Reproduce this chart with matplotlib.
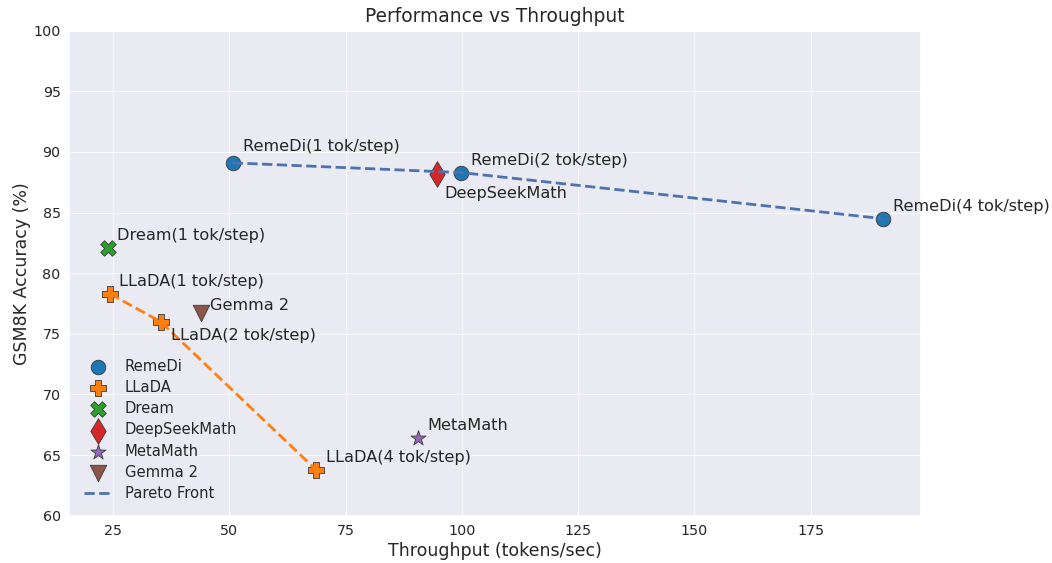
import matplotlib
matplotlib.use("Agg")
import matplotlib.pyplot as plt
import seaborn as sns

sns.set_theme(style="darkgrid")
plt.rcParams['font.family'] = ['DejaVu Sans']

# Data
models = ["RemeDi", "LLaDA", "Dream", "DeepSeekMath", "MetaMath", "Gemma 2"]
remedi_x = [50.7, 99.8, 190.5]
remedi_y = [89.1, 88.3, 84.5]
remedi_labels = ["RemeDi(1 tok/step)", "RemeDi(2 tok/step)", "RemeDi(4 tok/step)"]
llada_x = [24.3, 35.2, 68.6]
llada_y = [78.3, 76.0, 63.8]
llada_labels = ["LLaDA(1 tok/step)", "LLaDA(2 tok/step)", "LLaDA(4 tok/step)"]
dream_x = [23.9]
dream_y = [82.1]
dream_labels = ["Dream(1 tok/step)"]
deepseek_x = [94.6]
deepseek_y = [88.2]
deepseek_labels = ["DeepSeekMath"]
metamath_x = [90.5]
metamath_y = [66.4]
metamath_labels = ["MetaMath"]
gemma_x = [43.8]
gemma_y = [76.7]
gemma_labels = ["Gemma 2"]

# Styles
colors = ["#1f77b4", "#ff7f0e", "#2ca02c", "#d62728", "#9467bd", "#8c564b"]
markers = ["o", "P", "X", "d", "*", "v"]
sizes = [110, 140, 125, 170, 130, 140]
offsets = [
    [(10, 12), (10, 8), (10, 8)],
    [(9, 8), (10, -18), (10, 8)],
    [(9, 8)],
    [(8, -24)],
    [(10, 8)],
    [(9, 3)],
]

fig = plt.figure(figsize=(10.52, 5.63), dpi=100)
ax = fig.add_axes([0.0656, 0.084, 0.8096, 0.8615])

series = [
    (remedi_x, remedi_y, remedi_labels),
    (llada_x, llada_y, llada_labels),
    (dream_x, dream_y, dream_labels),
    (deepseek_x, deepseek_y, deepseek_labels),
    (metamath_x, metamath_y, metamath_labels),
    (gemma_x, gemma_y, gemma_labels),
]

for i, (xs, ys, labs) in enumerate(series):
    ax.scatter(xs, ys, s=sizes[i], marker=markers[i], color=colors[i],
               edgecolor="#3a3a3a", linewidth=0.6, label=models[i])
    for j, (x, y, t) in enumerate(zip(xs, ys, labs)):
        ax.annotate(t, (x, y), xytext=offsets[i][j], textcoords="offset pixels",
                    fontsize=11.6, color="#262626")

ax.plot(remedi_x, remedi_y, "--", color="#4c72b0", lw=2, label="Pareto Front")
ax.plot(llada_x, llada_y, "--", color="#ff7f0e", lw=2)

ax.set_xlim(15.5, 198.7)
ax.set_ylim(60, 100)
ax.set_xticks([25, 50, 75, 100, 125, 150, 175])
ax.tick_params(labelsize=10.3, length=0, pad=6, labelcolor="#262626")
ax.grid(True, color="white", linewidth=0.8, alpha=0.75)
ax.set_xlabel("Throughput (tokens/sec)", fontsize=12.5, labelpad=3)
ax.set_ylabel("GSM8K Accuracy (%)", fontsize=12.5, labelpad=2)
ax.set_title("Performance vs Throughput", fontsize=13.4, pad=6)

ax.legend(loc="lower left", fontsize=10.6, frameon=False, labelspacing=0.42,
          borderaxespad=0.6)

fig.savefig("out.png", dpi=100)
